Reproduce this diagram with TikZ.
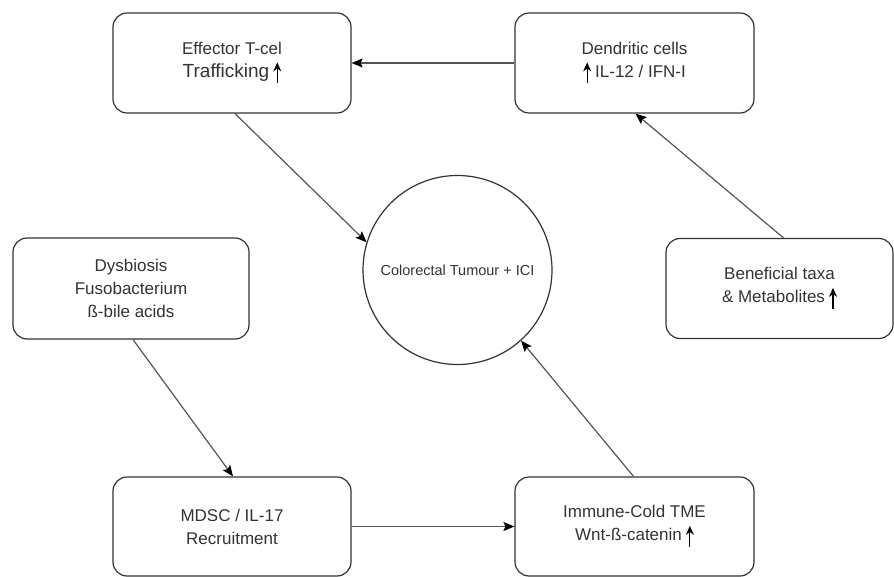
\documentclass[tikz,border=0pt]{standalone}
\usepackage{fontspec}
\setmainfont{Liberation Sans}
\usetikzlibrary{arrows.meta,calc}
\definecolor{ink}{HTML}{333333}
\definecolor{edge}{HTML}{555555}
\newcommand{\uparr}{\tikz[baseline=0pt]\draw[black,line width=1.1pt,-{Stealth[length=9pt,width=8pt]}](0,-6pt)--(0,15pt);}
\tikzset{
  box/.style={draw=ink, line width=1.2pt, rounded corners=14pt, align=center, text=ink, font=\fontsize{17}{23}\selectfont, inner sep=0pt},
  circ/.style={draw=ink, line width=1.2pt, circle, minimum size=189pt, text=ink, font=\fontsize{14.5}{17}\selectfont, inner sep=0pt},
  conn/.style={draw=edge, line width=1.2pt, -{Stealth[length=11pt,width=9pt,inset=2pt,color=black]}, shorten >=0pt}
}
\begin{document}
\begin{tikzpicture}[x=1pt,y=-1pt]
\useasboundingbox (0,0) rectangle (894,577);
\node[box, minimum width=238pt, minimum height=100pt] (eff) at (232,63) {Effector T-cel\\{\fontsize{19}{23}\selectfont Trafficking}\hspace{4pt}\uparr};
\node[box, minimum width=239pt, minimum height=100pt] (den) at (634.5,63) {Dendritic cells\\\uparr\hspace{4pt}IL-12 / IFN-I};
\node[box, minimum width=236pt, minimum height=101pt] (dys) at (131,288.5) {Dysbiosis\\Fusobacterium\\ß-bile acids};
\node[box, minimum width=227pt, minimum height=100pt] (ben) at (779.5,288.5) {Beneficial taxa\\\& Metabolites\hspace{4pt}\uparr};
\node[box, minimum width=238pt, minimum height=99pt] (mds) at (232,526.5) {MDSC / IL-17\\Recruitment};
\node[box, minimum width=239pt, minimum height=99pt] (imm) at (634.5,526.5) {Immune-Cold TME\\Wnt-ß-catenin\hspace{4pt}\uparr};
\node[circ] (tum) at (457.5,270) {Colorectal Tumour + ICI};
\draw[conn] (den.west) -- (eff.east);
\draw[conn] ($(eff.south)+(3,0)$) -- (tum.163);
\draw[conn] ($(ben.north)+(4,0)$) -- ($(den.south)+(1,0)$);
\draw[conn] ($(dys.south)+(2,0)$) -- ($(mds.north)+(1,0)$);
\draw[conn] (mds.east) -- (imm.west);
\draw[conn] ($(imm.north)+(-1,0)$) -- (tum.-48);
\end{tikzpicture}
\end{document}
